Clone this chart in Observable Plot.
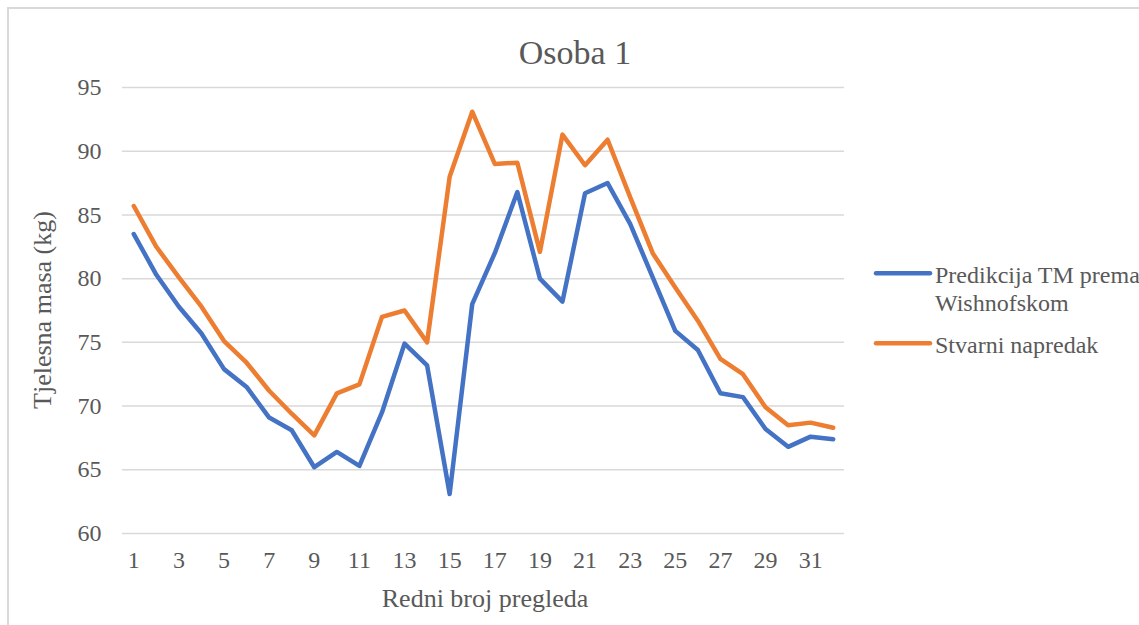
<!DOCTYPE html>
<html>
<head>
<meta charset="utf-8">
<script src="https://cdn.jsdelivr.net/npm/d3@7"></script>
<script src="https://cdn.jsdelivr.net/npm/@observablehq/plot@0.6"></script>
<style>
  html, body { margin: 0; padding: 0; background: #fff; overflow: hidden; }
  #wrap { position: relative; width: 1139px; height: 625px; overflow: hidden; }
  #box { position: absolute; left: 7px; top: 7px; width: 1200px; height: 700px;
         border-left: 2px solid #d9d9d9; border-top: 2px solid #d9d9d9; box-sizing: border-box; }
  #chart { position: absolute; left: 0; top: 0; }
</style>
</head>
<body>
<div id="wrap"><div id="box"></div><div id="chart"></div></div>
<script>
const titleText = "Osoba 1";
const xTitle = "Redni broj pregleda";
const yTitle = "Tjelesna masa (kg)";
const seriesNames = ["Predikcija TM prema Wishnofskom", "Stvarni napredak"];
const seriesColors = ["#4472C4", "#ED7D31"];

const pregled = [1,2,3,4,5,6,7,8,9,10,11,12,13,14,15,16,17,18,19,20,21,22,23,24,25,26,27,28,29,30,31,32];
const predikcija = [83.5, 80.3, 77.8, 75.7, 72.9, 71.5, 69.1, 68.1, 65.2, 66.4, 65.3, 69.5, 74.9, 73.2, 63.1, 78.0,
                    82.0, 86.8, 80.0, 78.2, 86.7, 87.5, 84.3, 80.1, 75.9, 74.4, 71.0, 70.7, 68.2, 66.8, 67.6, 67.4];
const stvarni = [85.7, 82.5, 80.1, 77.8, 75.1, 73.4, 71.2, 69.4, 67.7, 71.0, 71.7, 77.0, 77.5, 75.0, 88.0, 93.1,
                 89.0, 89.1, 82.1, 91.3, 88.9, 90.9, 86.4, 82.0, 79.3, 76.7, 73.7, 72.5, 69.9, 68.5, 68.7, 68.3];
const xTicks = [1,3,5,7,9,11,13,15,17,19,21,23,25,27,29,31];
const yTicks = [60,65,70,75,80,85,90,95];

const data = [];
pregled.forEach((p, i) => {
  data.push({x: p, y: predikcija[i], s: seriesNames[0]});
});
pregled.forEach((p, i) => {
  data.push({x: p, y: stvarni[i], s: seriesNames[1]});
});

const font = "'Liberation Serif', 'Times New Roman', serif";
const textColor = "#595959";

const chart = Plot.plot({
  width: 1139,
  height: 625,
  marginLeft: 122,
  marginRight: 295,
  marginTop: 87,
  marginBottom: 92,
  style: {fontFamily: font, background: "transparent", overflow: "visible"},
  x: {domain: [0.5, 32.5], label: null},
  y: {domain: [60, 95], label: null},
  color: {domain: seriesNames, range: seriesColors},
  marks: [
    Plot.gridY(yTicks, {stroke: "#d9d9d9", strokeOpacity: 1, strokeWidth: 1.5}),
    Plot.axisY(yTicks, {tickSize: 0, tickPadding: 21, fontSize: 24, fill: textColor, label: null}),
    Plot.axisX(xTicks, {tickSize: 0, tickPadding: 17, fontSize: 24, fill: textColor, label: null}),
    Plot.line(data, {x: "x", y: "y", z: "s", stroke: "s", strokeWidth: 4.5,
                     strokeLinejoin: "round", strokeLinecap: "round"})
  ]
});

document.getElementById("chart").appendChild(chart);

const svg = d3.select(chart);
const g = svg.append("g").attr("font-family", font).attr("fill", textColor);

g.append("text").attr("x", 575).attr("y", 64).attr("text-anchor", "middle")
  .attr("font-size", 34).text(titleText);
g.append("text").attr("x", 485).attr("y", 607).attr("text-anchor", "middle")
  .attr("font-size", 26).text(xTitle);
g.append("text").attr("transform", "translate(51,310) rotate(-90)").attr("text-anchor", "middle")
  .attr("font-size", 26).text(yTitle);

// legend
const leg = g.append("g").attr("text-anchor", "start");
const items = [
  {name: seriesNames[0], color: seriesColors[0], y: 273.3, lines: ["Predikcija TM prema", "Wishnofskom"]},
  {name: seriesNames[1], color: seriesColors[1], y: 343.3, lines: ["Stvarni napredak"]}
];
items.forEach(it => {
  leg.append("line").attr("x1", 876).attr("x2", 930).attr("y1", it.y).attr("y2", it.y)
    .attr("stroke", it.color).attr("stroke-width", 4.5).attr("stroke-linecap", "round");
  const t = leg.append("text").attr("x", 935).attr("y", it.y + 9.5).attr("font-size", 24)
    .attr("text-anchor", "start");
  it.lines.forEach((ln, k) => {
    t.append("tspan").attr("x", 935).attr("dy", k === 0 ? 0 : 28).text(ln);
  });
});
</script>
</body>
</html>
